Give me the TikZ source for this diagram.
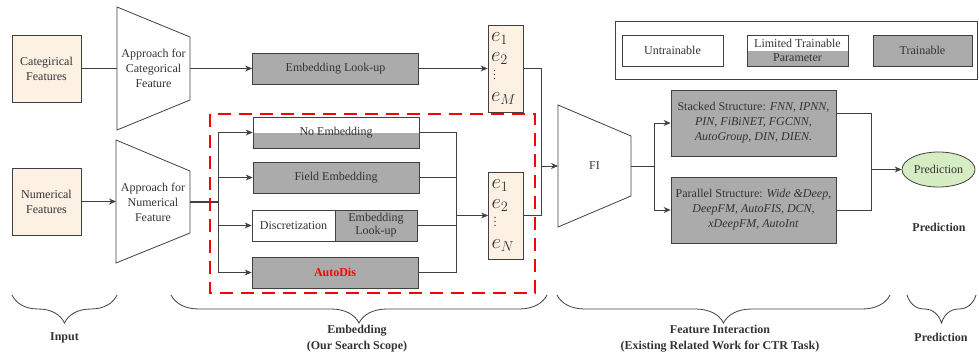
\documentclass[tikz,border=0pt]{standalone}
\usepackage{fontspec}
\setmainfont{Liberation Serif}
\usetikzlibrary{arrows.meta, shapes.geometric, decorations.pathreplacing}

\definecolor{beige}{HTML}{FDF1E4}
\definecolor{boxgray}{HTML}{ABABAB}
\definecolor{predgreen}{HTML}{D6EDC4}
\definecolor{edge}{HTML}{404040}

\newcommand{\vecstack}[1]{$e_1$\\$e_2$\\[-2pt]{\fontsize{12}{12}\selectfont$\,\vdots$}\\[2pt]$e_{#1}$}

\begin{document}
\begin{tikzpicture}[x=1pt, y=-1pt,
    every node/.style={font=\fontsize{12}{15}\selectfont, text=edge!80!black},
    feat/.style={draw=edge, fill=beige, line width=0.8pt, minimum width=69pt, minimum height=67pt, align=center, inner sep=1pt},
    train/.style={draw=edge, fill=boxgray, line width=0.8pt, minimum width=166pt, minimum height=31pt, align=center, inner sep=1pt},
    untrain/.style={draw=edge, fill=white, line width=0.8pt, minimum height=31pt, align=center, inner sep=1pt},
    half/.style={draw=edge, line width=0.8pt, minimum height=31pt, align=center, inner sep=1pt,
      path picture={\fill[boxgray] (path picture bounding box.west) rectangle (path picture bounding box.south east);}},
    vec/.style={draw=edge, fill=beige, line width=0.8pt, minimum width=35pt, minimum height=87pt, text width=29pt, align=left, inner sep=2pt, font=\fontsize{20}{20}\selectfont},
    link/.style={draw=edge, line width=0.8pt},
    arr/.style={link, -{Stealth[length=7pt, width=6pt]}},
    brc/.style={draw=edge, line width=0.8pt, decorate, decoration={brace, mirror, amplitude=28pt}},
    lbl/.style={font=\fontsize{12}{16}\selectfont\bfseries, align=center}]
  \useasboundingbox (0,0) rectangle (979,356);

  % input features
  \node [feat] (cat) at (46.5,68.5) {Categirical\\Features};
  \node [feat] (num) at (46.5,201.5) {Numerical\\Features};

  % approaches
  \draw [link] (117,7) -- (190,37) -- (190,100) -- (117,130) -- cycle;
  \node [align=center] (catapp) at (153.5,68.5) {Approach for\\Categorical\\Feature};
  \coordinate (catin) at (117,68.5);
  \coordinate (catout) at (190,68.5);
  \draw [link] (116,140) -- (190,171) -- (190,233) -- (116,263) -- cycle;
  \node [align=center] (numapp) at (153,202) {Approach for\\Numerical\\Feature};
  \coordinate (numin) at (116,201.5);
  \coordinate (numout) at (190,202);

  \draw [link] (cat) -- (catin);
  \draw [arr] (num) -- (numin);

  % categorical embedding
  \node [train] (catlook) at (335.5,68.5) {Embedding Look-up};
  \node [vec] (eM) at (505.5,68.5) {\vecstack{M}};
  \draw [arr] (catout) -- (catlook);
  \draw [arr] (catlook) -- (eM);

  % numerical embedding
  \coordinate (split) at (218,202);
  \draw [link, line width=1.4pt] (numout) -- (split);
  \node [half, minimum width=166pt] (noemb) at (336,132.5) {No Embedding};
  \node [train] (fieldemb) at (336,177.5) {Field Embedding};
  \node [untrain, minimum width=83pt] (disc) at (293.5,225.5) {Discretization};
  \node [train, minimum width=82pt, font=\fontsize{12}{13}\selectfont] (disclook) at (376,225.5) {Embedding\\Look-up};
  \node [train] (autodis) at (335,272.5) {\textcolor{red}{\textbf{AutoDis}}};
  \node [vec] (eN) at (506,215.5) {\vecstack{N}};

  \draw [arr] (split) |- (noemb);
  \draw [arr] (split) |- (fieldemb);
  \draw [arr] (split) |- (disc);
  \draw [arr] (split) |- (autodis);
  \coordinate (merge) at (456,215.5);
  \draw [link] (noemb) -| (merge);
  \draw [link] (fieldemb) -| (merge);
  \draw [link] (disclook) -| (merge);
  \draw [link] (autodis) -| (merge);
  \draw [arr] (merge) -- (eN);

  \draw [red, line width=2pt, dash pattern=on 13pt off 8pt] (210,114) rectangle (535,293);

  % feature interaction
  \draw [link] (558,105) -- (631,136) -- (631,196) -- (558,227) -- cycle;
  \node (fi) at (594.5,166) {FI};
  \coordinate (fiin) at (558,166);
  \coordinate (fiout) at (631,166);
  \coordinate (fijoin) at (541,166);
  \draw [link] (eM) -| (fijoin);
  \draw [link] (eN) -| (fijoin);
  \draw [arr] (fijoin) -- (fiin);

  \node [train, minimum width=165pt, minimum height=66pt] (stack) at (753.5,123)
    {Stacked Structure: \textit{FNN, IPNN,}\\\textit{PIN, FiBiNET, FGCNN,}\\\textit{AutoGroup, DIN, DIEN.}};
  \node [train, minimum width=165pt, minimum height=66pt] (para) at (753.5,210)
    {Parallel Structure: \textit{Wide \&Deep,}\\\textit{DeepFM, AutoFIS, DCN,}\\\textit{xDeepFM, AutoInt}};
  \coordinate (fisplit) at (654,166);
  \draw [link] (fiout) -- (fisplit);
  \draw [arr] (fisplit) |- (stack);
  \draw [arr] (fisplit) |- (para);

  % prediction
  \node [draw=edge, fill=predgreen, line width=0.8pt, ellipse, minimum width=73pt, minimum height=35pt, inner sep=0pt] (pred) at (938.5,169.5) {Prediction};
  \coordinate (predjoin) at (871,169.5);
  \draw [link] ([yshift=10pt]stack.east) -| (predjoin);
  \draw [link] (para) -| (predjoin);
  \draw [arr] (predjoin) -- (pred);
  \node [lbl] (predlbl) at (939,227) {Prediction};

  % legend
  \draw [link] (615,21) rectangle (977.5,79);
  \node [untrain, minimum width=101pt] (untr) at (672.5,50.5) {Untrainable};
  \node [half, minimum width=101pt, font=\fontsize{12}{14}\selectfont] (limited) at (797.5,50.5) {Limited Trainable\\Parameter};
  \node [train, minimum width=99pt] (trainable) at (922.5,50.5) {Trainable};

  % stages
  \draw [brc] (12,295) -- (117,295);
  \node [lbl] (inputlbl) at (64.5,338) {Input};
  \draw [brc] (171,295) -- (547,295);
  \node [lbl] (emblbl) at (357,339) {Embedding\\(Our Search Scope)};
  \draw [brc] (557,295) -- (890,295);
  \node [lbl] (filbl) at (720,339) {Feature Interaction\\(Existing Related Work for CTR Task)};
  \draw [brc] (907,295) -- (976,295);
  \node [lbl] (predbrlbl) at (941,337) {Prediction};
\end{tikzpicture}
\end{document}
